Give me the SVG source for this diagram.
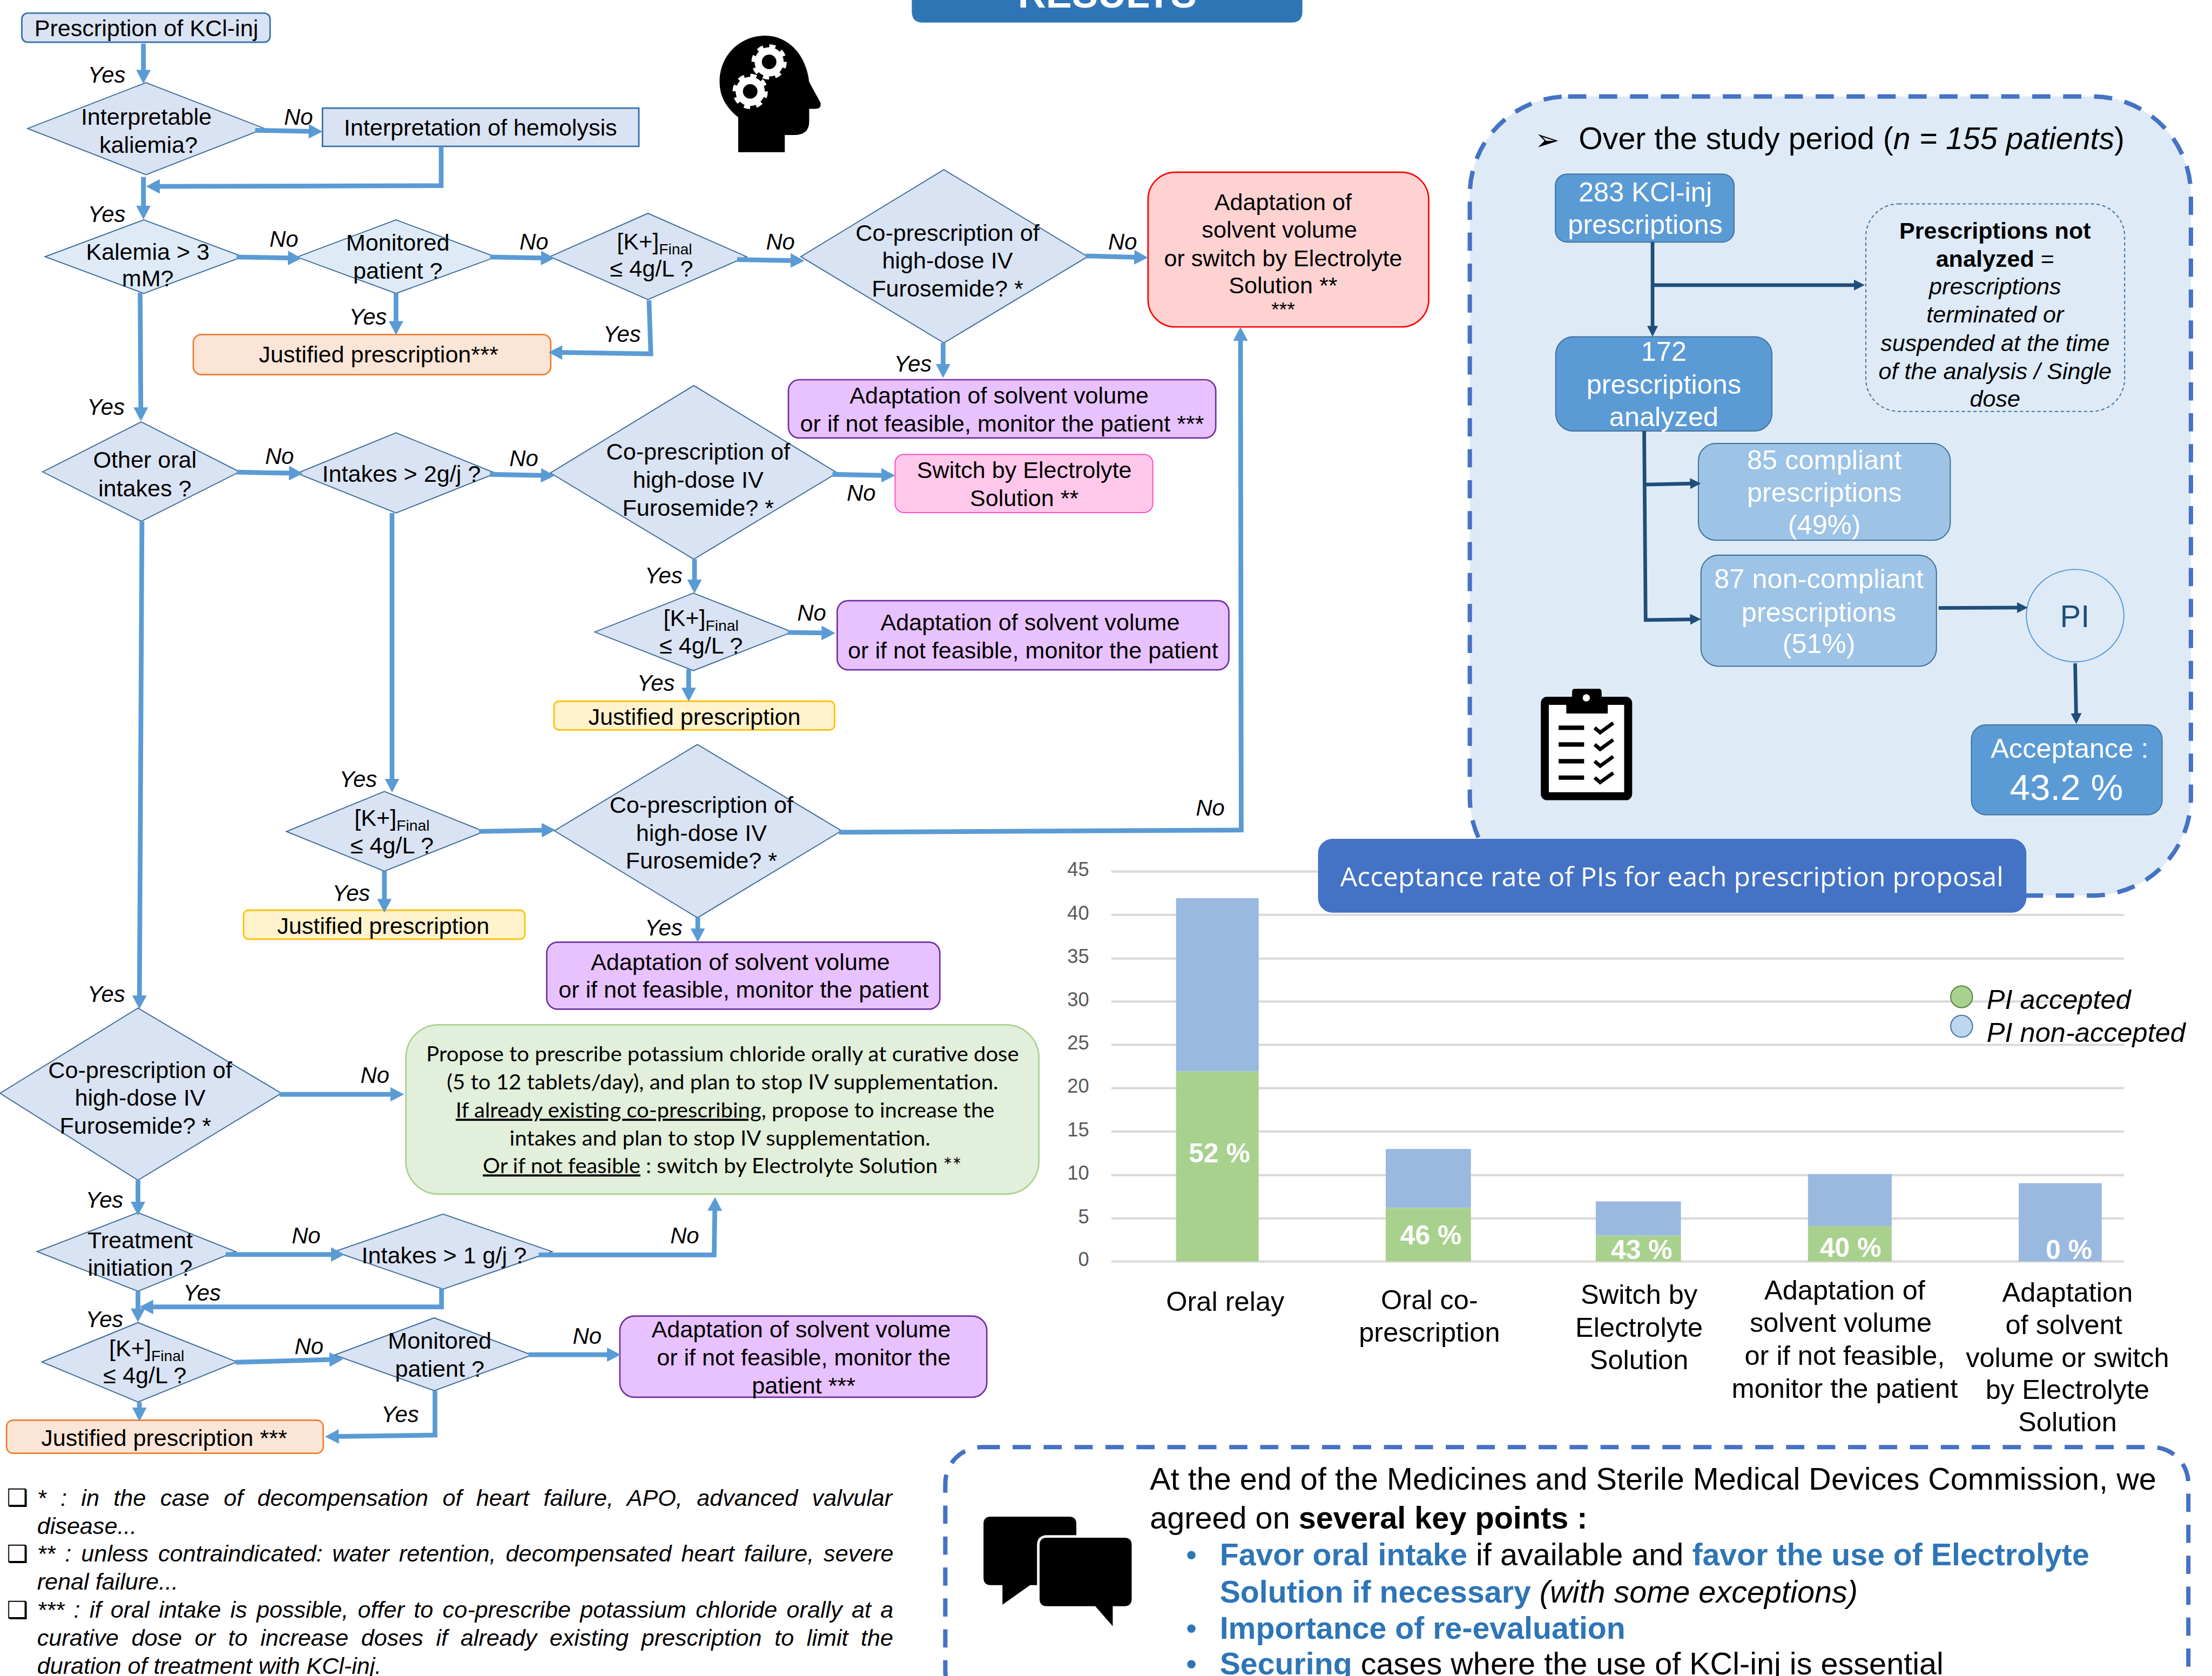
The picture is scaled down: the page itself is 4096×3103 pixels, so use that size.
<svg xmlns="http://www.w3.org/2000/svg" width="4096" height="3103" viewBox="0 0 4096 3103">
<style>
text{font-family:"Liberation Sans",Arial,sans-serif;font-size:64px;fill:#000}
.c{text-anchor:middle}
.i{font-style:italic}
.lb{font-style:italic;font-size:62px;text-anchor:middle}
.sub{font-size:42px}
.b{font-weight:bold}
.d1{fill:#DAE3F3;stroke:#41719C;stroke-width:3}
.d2{fill:#DEEBF7;stroke:#41719C;stroke-width:3}
.box{fill:#DAE3F3;stroke:#2F6DA8;stroke-width:4}
.pur{fill:#E8C2FF;stroke:#7030A0;stroke-width:4}
.pink{fill:#FFC8EA;stroke:#FF4FC4;stroke-width:3}
.red{fill:#FFD2D2;stroke:#FF0000;stroke-width:4}
.or{fill:#FBE5D6;stroke:#ED7D31;stroke-width:4}
.ye{fill:#FFF2CC;stroke:#FFC000;stroke-width:4}
.gr{fill:#E2EFDA;stroke:#A9D18E;stroke-width:4}
.conn path{fill:none;stroke:#5B9BD5;stroke-width:13;marker-end:url(#ah)}
.dark path{fill:none;stroke:#1F4E79;stroke-width:10;marker-end:url(#dh)}
.dash{fill:none;stroke:#4472C4;stroke-width:12;stroke-dasharray:50 35}
.w{fill:#fff;font-size:75px;text-anchor:middle}
.bl1{fill:#5B9BD5;stroke:#41719C;stroke-width:3}
.bl2{fill:#9DC3E6;stroke:#41719C;stroke-width:3}
.grid{stroke:#D9D9D9;stroke-width:6}
.tick{fill:#595959;font-size:54px;text-anchor:end}
.bu{fill:#9AB9E0}
.bg{fill:#A9D18E}
.pct{fill:#fff;font-weight:bold;font-size:74px;text-anchor:middle}
.gt{font-family:Lato,"Liberation Sans",sans-serif;font-size:58px;text-anchor:middle}
.u{text-decoration:underline}
.kp{font-size:85.5px}
.kb{font-weight:bold;fill:#2E75B6;font-size:85px}
.fn{font-style:italic}
.chk{font-family:"DejaVu Sans",sans-serif;font-size:66px}
.ic{stroke:#000;fill:none;stroke-linecap:butt}
.ax{font-size:75px;text-anchor:middle}
</style>
<defs>
<marker id="ah" markerUnits="userSpaceOnUse" viewBox="0 0 38 40" markerWidth="38" markerHeight="40" refX="18" refY="20" orient="auto"><path d="M0 0L38 20L0 40Z" fill="#5B9BD5"/></marker>
<marker id="dh" markerUnits="userSpaceOnUse" viewBox="0 0 30 30" markerWidth="30" markerHeight="30" refX="16" refY="15" orient="auto"><path d="M0 0L30 15L0 30Z" fill="#1F4E79"/></marker>
</defs>
<g transform="scale(0.67402)">

<g id="banner-results"><path d="M2505 -20H3578V32Q3578 62 3548 62H2535Q2505 62 2505 32Z" fill="#2E75B6"/><text class="c b" x="3042" y="21" style="font-size:107px;fill:#fff">RESULTS</text></g>

<g id="head-icon">
<path d="M2028 418V322C1995 295 1977 265 1977 225C1977 150 2035 98 2102 98C2165 98 2215 150 2223 225L2254 282Q2258 299 2240 299H2223V335Q2223 371 2180 371H2156V418Z" fill="#000"/>
<circle cx="2113" cy="170" r="30" fill="none" stroke="#fff" stroke-width="20"/><circle cx="2113" cy="170" r="42" fill="none" stroke="#fff" stroke-width="13" stroke-dasharray="16.5 16.5"/>
<circle cx="2061" cy="251" r="30" fill="none" stroke="#fff" stroke-width="20"/><circle cx="2061" cy="251" r="42" fill="none" stroke="#fff" stroke-width="13" stroke-dasharray="16.5 16.5"/>
</g>

<!-- flowchart nodes -->
<g id="n-prescription"><rect class="box" x="60" y="36" width="682" height="80" rx="16"/><text class="c" x="402" y="100">Prescription of KCl-inj</text></g>
<g id="n-interpretable"><path class="d1" d="M76 353L401 227L727 353L401 480Z"/><text class="c" x="402" y="343">Interpretable</text><text class="c" x="408" y="420">kaliemia?</text></g>
<g id="n-hemolysis"><rect class="box" x="886" y="297" width="869" height="105"/><text class="c" x="1320" y="373">Interpretation of hemolysis</text></g>
<g id="n-kalemia"><path class="d2" d="M124 705L395 604L667 705L395 806Z"/><text class="c" x="406" y="713">Kalemia &gt; 3</text><text class="c" x="406" y="787">mM?</text></g>
<g id="n-monitored1"><path class="d2" d="M816 706L1088 604L1362 706L1088 806Z"/><text class="c" x="1093" y="689">Monitored</text><text class="c" x="1093" y="766">patient ?</text></g>
<g id="n-k1"><path class="d1" d="M1511 705L1780 586L2051 705L1780 823Z"/><text class="c" x="1798" y="685">[K+]<tspan class="sub" dy="14">Final</tspan></text><text class="c" x="1790" y="759">≤ 4g/L ?</text></g>
<g id="n-coprescription1"><path class="d1" d="M2200 705L2593 466L2988 705L2593 942Z"/><text class="c" x="2603" y="661">Co-prescription of</text><text class="c" x="2603" y="738">high-dose IV</text><text class="c" x="2603" y="815">Furosemide? *</text></g>
<g id="n-adapt-red"><rect class="red" x="3154" y="473" width="771" height="425" rx="75"/><text class="c" x="3525" y="577">Adaptation of</text><text class="c" x="3515" y="653">solvent volume</text><text class="c" x="3525" y="731">or switch by Electrolyte</text><text class="c" x="3525" y="806">Solution **</text><text class="c" x="3525" y="869" style="font-size:56px">***</text></g>
<g id="n-justified-o1"><rect class="or" x="531" y="919" width="982" height="110" rx="22"/><text class="c" x="1040" y="995">Justified prescription***</text></g>
<g id="n-adapt-p1"><rect class="pur" x="2166" y="1043" width="1174" height="160" rx="30"/><text class="c" x="2745" y="1109">Adaptation of solvent volume</text><text class="c" x="2753" y="1185">or if not feasible, monitor the patient ***</text></g>
<g id="n-other-oral"><path class="d1" d="M117 1296L388 1159L658 1296L388 1432Z"/><text class="c" x="398" y="1285">Other oral</text><text class="c" x="398" y="1363">intakes ?</text></g>
<g id="n-intakes2"><path class="d1" d="M816 1300L1088 1189L1362 1300L1088 1409Z"/><text class="c" x="1103" y="1324">Intakes &gt; 2g/j ?</text></g>
<g id="n-coprescription2"><path class="d1" d="M1512 1299L1906 1059L2300 1299L1906 1536Z"/><text class="c" x="1918" y="1263">Co-prescription of</text><text class="c" x="1918" y="1340">high-dose IV</text><text class="c" x="1918" y="1417">Furosemide? *</text></g>
<g id="n-switch"><rect class="pink" x="2459" y="1248" width="708" height="160" rx="24"/><text class="c" x="2814" y="1313">Switch by Electrolyte</text><text class="c" x="2814" y="1390">Solution **</text></g>
<g id="n-k2"><path class="d1" d="M1634 1736L1905 1629L2176 1736L1905 1842Z"/><text class="c" x="1926" y="1719">[K+]<tspan class="sub" dy="14">Final</tspan></text><text class="c" x="1926" y="1795">≤ 4g/L ?</text></g>
<g id="n-adapt-p2"><rect class="pur" x="2300" y="1650" width="1076" height="190" rx="30"/><text class="c" x="2830" y="1732">Adaptation of solvent volume</text><text class="c" x="2838" y="1808">or if not feasible, monitor the patient</text></g>
<g id="n-justified-y1"><rect class="ye" x="1522" y="1926" width="771" height="79" rx="14"/><text class="c" x="1908" y="1991">Justified prescription</text></g>
<g id="n-k3"><path class="d1" d="M787 2284L1056 2174L1330 2284L1056 2393Z"/><text class="c" x="1077" y="2268">[K+]<tspan class="sub" dy="14">Final</tspan></text><text class="c" x="1077" y="2344">≤ 4g/L ?</text></g>
<g id="n-coprescription3"><path class="d1" d="M1523 2282L1916 2045L2312 2282L1916 2521Z"/><text class="c" x="1927" y="2233">Co-prescription of</text><text class="c" x="1927" y="2310">high-dose IV</text><text class="c" x="1927" y="2386">Furosemide? *</text></g>
<g id="n-justified-y2"><rect class="ye" x="669" y="2500" width="773" height="80" rx="14"/><text class="c" x="1053" y="2565">Justified prescription</text></g>
<g id="n-adapt-p3"><rect class="pur" x="1502" y="2588" width="1080" height="184" rx="30"/><text class="c" x="2034" y="2664">Adaptation of solvent volume</text><text class="c" x="2043" y="2741">or if not feasible, monitor the patient</text></g>
<g id="n-coprescription4"><path class="d1" d="M0 3003L379 2769L773 3003L379 3242Z"/><text class="c" x="385" y="2961">Co-prescription of</text><text class="c" x="385" y="3037">high-dose IV</text><text class="c" x="372" y="3114">Furosemide? *</text></g>
<g id="n-oral-green"><rect class="gr" x="1115" y="2815" width="1739" height="465" rx="90"/>
<text class="gt" x="1985" y="2916" textLength="1628" lengthAdjust="spacingAndGlyphs">Propose to prescribe potassium chloride orally at curative dose</text>
<text class="gt" x="1985" y="2993" textLength="1515" lengthAdjust="spacingAndGlyphs">(5 to 12 tablets/day), and plan to stop IV supplementation.</text>
<text class="gt" x="1992" y="3070" textLength="1480" lengthAdjust="spacingAndGlyphs"><tspan class="u">If already existing co-prescribing</tspan>, propose to increase the</text>
<text class="gt" x="1978" y="3147" textLength="1156" lengthAdjust="spacingAndGlyphs">intakes and plan to stop IV supplementation.</text>
<text class="gt" x="1984" y="3223" textLength="1315" lengthAdjust="spacingAndGlyphs"><tspan class="u">Or if not feasible</tspan> : switch by Electrolyte Solution **</text></g>
<g id="n-treatment"><path class="d1" d="M102 3438L379 3331L647 3438L379 3547Z"/><text class="c" x="385" y="3428">Treatment</text><text class="c" x="385" y="3504">initiation ?</text></g>
<g id="n-intakes1"><path class="d1" d="M919 3438L1217 3335L1517 3438L1217 3541Z"/><text class="c" x="1220" y="3470">Intakes &gt; 1 g/j ?</text></g>
<g id="n-k4"><path class="d1" d="M115 3741L379 3633L651 3741L379 3851Z"/><text class="c" x="403" y="3725">[K+]<tspan class="sub" dy="14">Final</tspan></text><text class="c" x="398" y="3799">≤ 4g/L ?</text></g>
<g id="n-monitored2"><path class="d1" d="M919 3722L1193 3620L1461 3722L1193 3820Z"/><text class="c" x="1208" y="3705">Monitored</text><text class="c" x="1208" y="3782">patient ?</text></g>
<g id="n-adapt-p4"><rect class="pur" x="1703" y="3615" width="1008" height="223" rx="40"/><text class="c" x="2201" y="3674">Adaptation of solvent volume</text><text class="c" x="2208" y="3751">or if not feasible, monitor the</text><text class="c" x="2208" y="3828">patient ***</text></g>
<g id="n-justified-o2"><rect class="or" x="18" y="3901" width="870" height="91" rx="18"/><text class="c" x="451" y="3972">Justified prescription ***</text></g>

<!-- flowchart connectors -->
<g id="connectors" class="conn">
<path d="M394 120V210"/><path d="M701 358L866 361"/><path d="M1212 402V510L421 512"/><path d="M394 486V583"/>
<path d="M650 706L809 709"/><path d="M1346 706L1504 709"/><path d="M2025 713L2190 716"/><path d="M2982 703L3134 707"/>
<path d="M2591 942V1018"/><path d="M1088 806V900"/><path d="M1783 825L1788 972L1527 968"/><path d="M385 804L387 1137"/>
<path d="M650 1297L812 1300"/><path d="M1346 1303L1504 1306"/><path d="M2287 1303L2439 1306"/><path d="M1908 1536V1610"/>
<path d="M2164 1737L2275 1739"/><path d="M1892 1838V1907"/><path d="M1077 1409V2157"/><path d="M1316 2284L1506 2280"/>
<path d="M2305 2286L3410 2280L3408 918"/><path d="M1056 2393V2487"/><path d="M1917 2521V2568"/><path d="M390 1432L383 2752"/>
<path d="M768 3006H1090"/><path d="M379 3242V3319"/><path d="M620 3446H927"/><path d="M1480 3447H1962L1964 3308"/>
<path d="M1213 3539V3590H403"/><path d="M379 3547V3612"/><path d="M647 3742L923 3734"/><path d="M1452 3721H1685"/>
<path d="M383 3851V3884"/><path d="M1195 3820V3942L913 3946"/>
</g>
<g id="connector-labels">
<text class="lb" x="293" y="227">Yes</text><text class="lb" x="820" y="342">No</text><text class="lb" x="293" y="610">Yes</text><text class="lb" x="780" y="678">No</text>
<text class="lb" x="1467" y="685">No</text><text class="lb" x="2144" y="685">No</text><text class="lb" x="3084" y="685">No</text><text class="lb" x="1011" y="892">Yes</text>
<text class="lb" x="1709" y="939">Yes</text><text class="lb" x="2508" y="1020">Yes</text><text class="lb" x="291" y="1139">Yes</text><text class="lb" x="768" y="1275">No</text>
<text class="lb" x="1439" y="1281">No</text><text class="lb" x="2366" y="1375">No</text><text class="lb" x="1823" y="1603">Yes</text><text class="lb" x="2230" y="1704">No</text>
<text class="lb" x="1802" y="1898">Yes</text><text class="lb" x="984" y="2161">Yes</text><text class="lb" x="3325" y="2241">No</text><text class="lb" x="965" y="2475">Yes</text>
<text class="lb" x="1823" y="2569">Yes</text><text class="lb" x="292" y="2752">Yes</text><text class="lb" x="1030" y="2974">No</text><text class="lb" x="287" y="3317">Yes</text>
<text class="lb" x="841" y="3416">No</text><text class="lb" x="1881" y="3416">No</text><text class="lb" x="555" y="3572">Yes</text><text class="lb" x="287" y="3645">Yes</text>
<text class="lb" x="849" y="3719">No</text><text class="lb" x="1613" y="3691">No</text><text class="lb" x="1099" y="3906">Yes</text>
</g>

<!-- footnotes -->
<g id="footnotes">
<text class="chk" x="18" y="4136">❑</text><text class="chk" x="18" y="4290">❑</text><text class="chk" x="18" y="4445">❑</text>
<text class="fn" x="102" y="4136" style="word-spacing:21.4px">* : in the case of decompensation of heart failure, APO, advanced valvular</text>
<text class="fn" x="102" y="4213">disease...</text>
<text class="fn" x="102" y="4289" style="word-spacing:8.9px">** : unless contraindicated: water retention, decompensated heart failure, severe</text>
<text class="fn" x="102" y="4366">renal failure...</text>
<text class="fn" x="102" y="4444" style="word-spacing:8px">*** : if oral intake is possible, offer to co-prescribe potassium chloride orally at a</text>
<text class="fn" x="102" y="4521" style="word-spacing:17.3px">curative dose or to increase doses if already existing prescription to limit the</text>
<text class="fn" x="102" y="4598">duration of treatment with KCl-inj.</text>
</g>

<!-- study period panel -->
<g id="study-panel"><rect x="4038" y="265" width="1981" height="2195" rx="270" fill="#DEEBF7"/><rect class="dash" x="4038" y="265" width="1981" height="2195" rx="270"/>
<text x="4216" y="412" style="font-family:'DejaVu Sans',sans-serif;font-size:82px">➢</text>
<text x="4337" y="410" style="font-size:85px">Over the study period (<tspan class="i">n = 155 patients</tspan>)</text></g>
<g id="n-283"><rect class="bl1" x="4273" y="478" width="491" height="187" rx="32"/><text class="w" x="4520" y="553">283 KCl-inj</text><text class="w" x="4520" y="643">prescriptions</text></g>
<g id="n-172"><rect class="bl1" x="4274" y="925" width="594" height="259" rx="48"/><text class="w" x="4571" y="991">172</text><text class="w" x="4571" y="1082">prescriptions</text><text class="w" x="4571" y="1171">analyzed</text></g>
<g id="n-not-analyzed"><rect x="5126" y="560" width="711" height="570" rx="90" fill="none" stroke="#41719C" stroke-width="3" stroke-dasharray="9 7"/>
<text class="c b" x="5481" y="656">Prescriptions not</text><text class="c" x="5481" y="733"><tspan class="b">analyzed</tspan> =</text><text class="c i" x="5481" y="809">prescriptions</text><text class="c i" x="5481" y="886">terminated or</text><text class="c i" x="5481" y="964">suspended at the time</text><text class="c i" x="5481" y="1041">of the analysis / Single</text><text class="c i" x="5481" y="1117">dose</text></g>
<g id="n-85"><rect class="bl2" x="4666" y="1218" width="692" height="266" rx="48"/><text class="w" x="5012" y="1289">85 compliant</text><text class="w" x="5012" y="1378">prescriptions</text><text class="w" x="5012" y="1468">(49%)</text></g>
<g id="n-87"><rect class="bl2" x="4673" y="1525" width="647" height="305" rx="48"/><text class="w" x="4997" y="1616">87 non-compliant</text><text class="w" x="4997" y="1707">prescriptions</text><text class="w" x="4997" y="1794">(51%)</text></g>
<g id="n-pi"><ellipse cx="5701" cy="1691" rx="134" ry="127" fill="#DEEBF7" stroke="#5B9BD5" stroke-width="3"/><text class="c" x="5700" y="1723" style="font-size:86px;fill:#1F4E79">PI</text></g>
<g id="n-acceptance"><rect class="bl1" x="5416" y="1991" width="524" height="247" rx="40"/><text class="w" x="5686" y="2081">Acceptance :</text><text class="w" x="5677" y="2198" style="font-size:100px">43.2 %</text></g>
<g id="panel-connectors" class="dark">
<path d="M4540 665V911"/><path d="M4544 783H5109"/><path d="M4517 1184L4521 1703L4659 1701"/><path d="M4521 1331L4659 1328"/><path d="M5326 1670L5557 1669"/><path d="M5701 1822L5704 1975"/>
</g>
<g id="clipboard-icon">
<rect x="4244" y="1925" width="229" height="262" rx="6" fill="#fff" stroke="#000" stroke-width="22"/>
<path d="M4303 1960V1921H4319V1900Q4319 1892 4327 1892H4392Q4400 1892 4400 1900V1921H4417V1960Z" fill="#000"/><circle cx="4358" cy="1917" r="10" fill="#fff"/>
<path class="ic" stroke-width="12" d="M4282 1999H4352M4282 2045H4352M4282 2091H4352M4282 2136H4352"/>
<path class="ic" stroke-width="10" d="M4381 1999L4396 2012L4432 1986M4381 2045L4396 2058L4432 2032M4381 2091L4396 2104L4432 2078M4381 2136L4396 2149L4432 2123"/>
</g>

<!-- chart -->
<g id="chart">
<path class="grid" d="M3053 2394H3621M3053 2513H5835M3053 2633H5835M3053 2751H5835M3053 2870H5835M3053 2989H5835M3053 3108H5835M3053 3228H5835M3053 3347H5835M3053 3465H5835"/>
<text class="tick" x="2992" y="2407">45</text><text class="tick" x="2992" y="2526">40</text><text class="tick" x="2992" y="2646">35</text><text class="tick" x="2992" y="2764">30</text><text class="tick" x="2992" y="2883">25</text><text class="tick" x="2992" y="3002">20</text><text class="tick" x="2992" y="3121">15</text><text class="tick" x="2992" y="3241">10</text><text class="tick" x="2992" y="3360">5</text><text class="tick" x="2992" y="3478">0</text>
<rect class="bu" x="3231" y="2467" width="227" height="476"/><rect class="bg" x="3231" y="2943" width="227" height="522"/>
<rect class="bu" x="3807" y="3156" width="234" height="162"/><rect class="bg" x="3807" y="3318" width="234" height="147"/>
<rect class="bu" x="4384" y="3300" width="234" height="94"/><rect class="bg" x="4384" y="3394" width="234" height="71"/>
<rect class="bu" x="4967" y="3225" width="230" height="143"/><rect class="bg" x="4967" y="3368" width="230" height="97"/>
<rect class="bu" x="5546" y="3250" width="228" height="215"/>
<text class="pct" x="3350" y="3193">52 %</text><text class="pct" x="3931" y="3419">46 %</text><text class="pct" x="4510" y="3458">43 %</text><text class="pct" x="5084" y="3452">40 %</text><text class="pct" x="5684" y="3458">0 %</text>
<text class="ax" x="3366" y="3601">Oral relay</text>
<text class="ax" x="3927" y="3597">Oral co-</text><text class="ax" x="3927" y="3686">prescription</text>
<text class="ax" x="4503" y="3582">Switch by</text><text class="ax" x="4503" y="3672">Electrolyte</text><text class="ax" x="4503" y="3761">Solution</text>
<text class="ax" x="5068" y="3570">Adaptation of</text><text class="ax" x="5057" y="3658">solvent volume</text><text class="ax" x="5068" y="3749">or if not feasible,</text><text class="ax" x="5068" y="3839">monitor the patient</text>
<text class="ax" x="5680" y="3576">Adaptation</text><text class="ax" x="5670" y="3664">of solvent</text><text class="ax" x="5680" y="3755">volume or switch</text><text class="ax" x="5680" y="3843">by Electrolyte</text><text class="ax" x="5680" y="3932">Solution</text>
</g>
<g id="legend"><circle cx="5389" cy="2738" r="30" fill="#A9D18E" stroke="#548235" stroke-width="3"/><circle cx="5389" cy="2819" r="30" fill="#BDD7EE" stroke="#41719C" stroke-width="3"/>
<text class="i" x="5458" y="2771" style="font-size:75px">PI accepted</text><text class="i" x="5458" y="2862" style="font-size:75px">PI non-accepted</text></g>
<g id="banner-acceptance"><rect x="3621" y="2304" width="1946" height="203" rx="40" fill="#4472C4"/><text class="c" x="4593" y="2435" textLength="1822" lengthAdjust="spacingAndGlyphs" style="font-family:'Open Sans',sans-serif;font-size:74px;fill:#fff">Acceptance rate of PIs for each prescription proposal</text></g>

<!-- key points -->
<g id="key-points"><rect class="dash" x="2597" y="3975" width="3415" height="715" rx="100"/>
<text class="kp" x="3159" y="4092">At the end of the Medicines and Sterile Medical Devices Commission, we</text>
<text class="kp" x="3159" y="4198">agreed on <tspan class="b">several key points :</tspan></text>
<text class="kp" x="3258" y="4300" style="fill:#2E75B6">•</text><text class="kp" x="3351" y="4300"><tspan class="kb">Favor oral intake</tspan> if available and <tspan class="kb">favor the use of Electrolyte</tspan></text>
<text class="kp" x="3351" y="4402"><tspan class="kb">Solution if necessary</tspan> <tspan class="i">(with some exceptions)</tspan></text>
<text class="kp" x="3258" y="4502" style="fill:#2E75B6">•</text><text class="kp kb" x="3351" y="4502">Importance of re-evaluation</text>
<text class="kp" x="3258" y="4600" style="fill:#2E75B6">•</text><text class="kp" x="3351" y="4600"><tspan class="kb">Securing</tspan> cases where the use of KCl-inj is essential</text>
</g>
<g id="chat-icon">
<path d="M2722 4166H2937Q2957 4166 2957 4186V4334Q2957 4354 2937 4354H2830L2754 4408V4354H2722Q2702 4354 2702 4334V4186Q2702 4166 2722 4166Z" fill="#000"/>
<path d="M2876 4224H3089Q3109 4224 3109 4244V4392Q3109 4412 3089 4412H3057V4467L3009 4412H2876Q2856 4412 2856 4392V4244Q2856 4224 2876 4224Z" fill="#000" stroke="#fff" stroke-width="14" paint-order="stroke"/>
</g>
</g>
</svg>
